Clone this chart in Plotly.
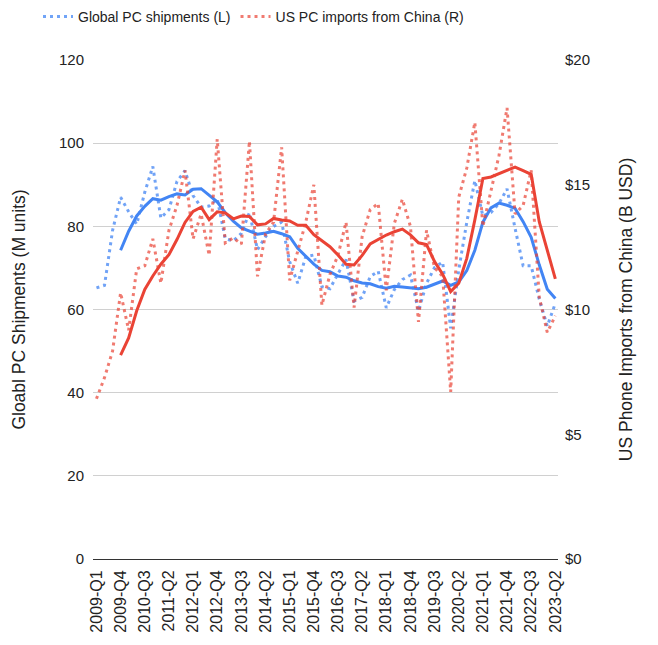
import pandas as pd
import plotly.graph_objects as go

# Quarterly axis: 2009-Q1 .. 2023-Q2
quarters = [f"{y}-Q{q}" for y in range(2009, 2024) for q in range(1, 5)][:58]

# Global PC shipments, millions of units (left axis)
pc_shipments = [
    65.2, 65.8, 79.0, 87.0, 83.5, 80.5, 88.2, 94.4, 82.0, 84.0,
    90.8, 93.4, 87.4, 84.6, 84.9, 86.6, 77.0, 76.5, 78.3, 83.3,
    74.4, 77.5, 80.0, 81.0, 71.5, 66.3, 72.7, 73.1, 65.5, 65.0,
    68.6, 72.0, 62.0, 62.9, 67.9, 69.2, 60.4, 64.8, 67.2, 68.3,
    59.6, 66.3, 70.1, 71.4, 55.5, 69.5, 81.0, 91.0, 82.5, 83.3,
    85.5, 89.0, 79.5, 70.5, 70.5, 62.5, 56.0, 61.5,
]

# US PC imports from China, billions of USD (right axis)
us_imports = [
    6.42, 7.27, 8.33, 10.67, 9.17, 11.63, 11.75, 12.83, 11.05, 13.17,
    14.17, 15.57, 12.83, 13.83, 12.17, 16.83, 12.67, 12.87, 12.62, 16.75,
    11.33, 13.02, 13.50, 16.50, 11.17, 12.33, 13.50, 15.00, 10.17, 11.40,
    12.17, 13.50, 10.08, 12.92, 14.00, 14.25, 10.77, 13.45, 14.42, 13.33,
    9.50, 13.17, 11.67, 11.33, 6.70, 14.50, 15.67, 17.50, 13.33, 14.75,
    16.17, 18.08, 13.83, 14.17, 15.58, 10.50, 9.08, 9.75,
]

left_ticks = [0, 20, 40, 60, 80, 100, 120]
right_ticks = [0, 5, 10, 15, 20]
right_labels = [f"${v}" for v in right_ticks]

BLUE = "#4285F4"
RED = "#EA4335"
FONT = "Arial, Liberation Sans, sans-serif"
INK = "#222222"

idx = list(range(len(quarters)))
df = pd.DataFrame({"pc": pc_shipments, "imp": us_imports}, index=idx)
# four-quarter moving-average trendlines
pc_ma = df["pc"].rolling(4).mean()
imp_ma = df["imp"].rolling(4).mean()

fig = go.Figure()

fig.add_trace(go.Scatter(
    x=idx, y=pc_shipments, mode="lines", name="Global PC shipments (L)",
    line=dict(color=BLUE, width=3, dash="3px,4px"), opacity=0.75,
))
fig.add_trace(go.Scatter(
    x=idx, y=us_imports, mode="lines", name="US PC imports from China (R)",
    yaxis="y2", line=dict(color=RED, width=3, dash="3px,4px"), opacity=0.7,
))
fig.add_trace(go.Scatter(
    x=idx, y=pc_ma, mode="lines", showlegend=False, hoverinfo="skip",
    line=dict(color=BLUE, width=3),
))
fig.add_trace(go.Scatter(
    x=idx, y=imp_ma, mode="lines", showlegend=False, hoverinfo="skip",
    yaxis="y2", line=dict(color=RED, width=3),
))

fig.update_layout(
    width=658, height=645,
    margin=dict(l=93, r=100, t=60, b=81),
    paper_bgcolor="white", plot_bgcolor="white",
    font=dict(family=FONT, size=14, color=INK),
    showlegend=True,
    legend=dict(
        orientation="h", xref="container", yref="container",
        x=38 / 658, xanchor="left", y=1 - 1 / 645, yanchor="top",
        font=dict(size=14, color=INK), itemwidth=30,
    ),
    xaxis=dict(
        range=[-0.43, 57.33],
        tickmode="array",
        tickvals=idx[::3],
        ticktext=quarters[::3],
        tickangle=-90,
        tickfont=dict(size=16, color=INK),
        showgrid=False, zeroline=False,
        showline=True, linecolor="#333", linewidth=1,
        ticks="", ticklabelstandoff=4,
    ),
    yaxis=dict(
        range=[0, 120], tickmode="array", tickvals=left_ticks,
        showgrid=True, gridcolor="#d0d0d0", gridwidth=1,
        zeroline=False, showline=False, ticks="",
        tickfont=dict(size=15, color=INK),
        ticklabelstandoff=8,
        title=dict(text="Gloabl PC Shipments (M units)",
                   font=dict(size=17.5, color=INK), standoff=28),
    ),
    yaxis2=dict(
        range=[0, 20], tickmode="array",
        tickvals=right_ticks, ticktext=right_labels,
        overlaying="y", side="right",
        showgrid=False, zeroline=False, showline=False, ticks="",
        tickfont=dict(size=15, color=INK),
        ticklabelstandoff=6,
        title=dict(text="US Phone Imports from China (B USD)",
                   font=dict(size=17.5, color=INK), standoff=30),
    ),
)

fig.write_html("out.html")
